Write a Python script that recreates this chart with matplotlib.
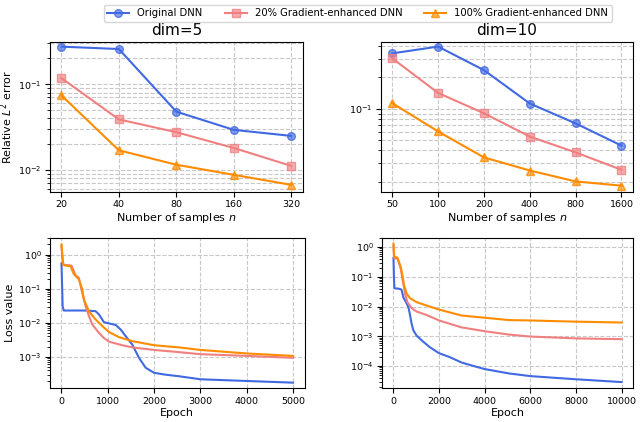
import matplotlib
matplotlib.use("Agg")
import matplotlib.pyplot as plt
from matplotlib.ticker import FixedLocator, NullLocator, ScalarFormatter

# ---------------- data ----------------
labels = ["Original DNN", "20% Gradient-enhanced DNN", "100% Gradient-enhanced DNN"]

n5 = [20, 40, 80, 160, 320]
err5_orig = [0.275, 0.258, 0.0478, 0.0293, 0.0249]
err5_g20 = [0.118, 0.0388, 0.0275, 0.018, 0.0111]
err5_g100 = [0.0742, 0.0169, 0.01146, 0.00873, 0.00667]

n10 = [50, 100, 200, 400, 800, 1600]
err10_orig = [0.340, 0.395, 0.235, 0.1126, 0.0726, 0.0445]
err10_g20 = [0.305, 0.142, 0.0908, 0.0543, 0.0383, 0.0261]
err10_g100 = [0.1135, 0.0608, 0.0343, 0.0257, 0.0202, 0.0184]

# loss histories, dim=5
ep5_orig = [0, 25, 50, 200, 500, 735, 807, 915, 1024, 1168, 1276, 1384, 1528, 1673, 1817, 2000, 2250, 2538, 3000, 4000, 5000]
loss5_orig = [0.55, 0.03, 0.023, 0.023, 0.023, 0.022, 0.0178, 0.0105, 0.0096, 0.0087, 0.0064, 0.0041, 0.0023, 0.00094, 0.00048, 0.00034, 0.00030, 0.00027, 0.00022, 0.000196, 0.000175]
ep5_g20 = [0, 20, 40, 100, 216, 303, 375, 447, 519, 591, 663, 807, 915, 1024, 1312, 1528, 2000, 2538, 3000, 4000, 5000]
loss5_g20 = [1.8, 0.8, 0.5, 0.5, 0.48, 0.25, 0.21, 0.077, 0.031, 0.016, 0.009, 0.0051, 0.0036, 0.0028, 0.0022, 0.0019, 0.0016, 0.00138, 0.0012, 0.00107, 0.00094]
ep5_g100 = [0, 20, 40, 100, 195, 267, 375, 447, 483, 591, 735, 880, 1024, 1240, 1528, 2000, 2538, 3000, 4000, 5000]
loss5_g100 = [2.0, 0.9, 0.5, 0.48, 0.46, 0.27, 0.19, 0.097, 0.049, 0.022, 0.0126, 0.0081, 0.0054, 0.0038, 0.0029, 0.0022, 0.0019, 0.0016, 0.00126, 0.00107]

# loss histories, dim=10
ep10_orig = [0, 20, 40, 200, 319, 362, 435, 550, 652, 700, 797, 870, 1014, 1304, 1594, 2000, 2464, 2971, 3478, 4000, 5072, 6000, 8000, 10000]
loss10_orig = [0.43, 0.1, 0.041, 0.040, 0.038, 0.035, 0.020, 0.014, 0.0095, 0.0065, 0.0026, 0.0016, 0.00105, 0.00066, 0.00043, 0.00027, 0.00020, 0.000133, 0.000102, 0.0000793, 0.0000564, 4.6e-5, 3.6e-5, 2.9e-5]
ep10_g20 = [0, 20, 40, 174, 217, 319, 406, 507, 609, 797, 1014, 1449, 2000, 2971, 4000, 5072, 6000, 8000, 10000]
loss10_g20 = [1.1, 0.5, 0.42, 0.40, 0.33, 0.19, 0.075, 0.027, 0.014, 0.0088, 0.0068, 0.0052, 0.0034, 0.0020, 0.00148, 0.00114, 0.00098, 0.00085, 0.00080]
ep10_g100 = [0, 20, 40, 174, 217, 319, 406, 464, 580, 725, 1014, 1449, 2000, 2971, 4000, 5072, 6000, 8000, 10000]
loss10_g100 = [1.3, 0.6, 0.46, 0.44, 0.35, 0.21, 0.097, 0.051, 0.027, 0.019, 0.014, 0.0108, 0.0079, 0.0050, 0.0042, 0.0035, 0.0034, 0.0031, 0.0029]

# ---------------- style ----------------
c_orig = "#4169E1"
c_g20 = "#F08080"
c_g100 = "#FF8C00"
TICK = 6.8
LAB = 8.0

fig = plt.figure(figsize=(6.4, 4.22), dpi=100)
ax1 = fig.add_axes([0.078, 0.545, 0.395, 0.355])
ax2 = fig.add_axes([0.595, 0.545, 0.394, 0.355])
ax3 = fig.add_axes([0.078, 0.080, 0.398, 0.356])
ax4 = fig.add_axes([0.597, 0.080, 0.392, 0.356])

grid_kw = dict(linestyle="--", color="#c8c8c8", linewidth=0.8)

def top_panel(ax, n, e1, e2, e3, title, ylim):
    h1, = ax.plot(n, e1, "-o", color=c_orig, lw=1.5, ms=5.5)
    h2, = ax.plot(n, e2, "-s", color=c_g20, lw=1.5, ms=5.5)
    h3, = ax.plot(n, e3, "-^", color=c_g100, lw=1.5, ms=5.5)
    for h in (h1, h2, h3):
        h.set_markerfacecolor(matplotlib.colors.to_rgba(h.get_color(), 0.65))
        h.set_markeredgecolor(matplotlib.colors.to_rgba(h.get_color(), 0.8))
    ax.set_xscale("log", base=2)
    ax.set_yscale("log")
    ax.xaxis.set_major_locator(FixedLocator(n))
    ax.xaxis.set_major_formatter(ScalarFormatter())
    ax.xaxis.set_minor_locator(NullLocator())
    ax.set_ylim(*ylim)
    ax.grid(True, which="both", **grid_kw)
    ax.set_title(title, fontsize=11, pad=5)
    ax.set_xlabel("Number of samples $n$", fontsize=LAB, labelpad=1.5)
    ax.tick_params(labelsize=TICK, pad=2.5)
    return h1, h2, h3

def bottom_panel(ax, data, xt, ylim, xlim):
    for ep, l, c in data:
        ax.plot(ep, l, "-", color=c, lw=1.5)
    ax.set_yscale("log")
    ax.set_xticks(xt)
    ax.set_xlim(*xlim)
    ax.set_ylim(*ylim)
    ax.grid(True, which="major", **grid_kw)
    ax.set_xlabel("Epoch", fontsize=LAB, labelpad=1.5)
    ax.tick_params(labelsize=TICK, pad=2.5)

handles = top_panel(ax1, n5, err5_orig, err5_g20, err5_g100, "dim=5", (0.0055, 0.31))
top_panel(ax2, n10, err10_orig, err10_g20, err10_g100, "dim=10", (0.016, 0.435))
ax1.set_ylabel("Relative $L^2$ error", fontsize=LAB, labelpad=2)

bottom_panel(ax3, [(ep5_orig, loss5_orig, c_orig), (ep5_g20, loss5_g20, c_g20), (ep5_g100, loss5_g100, c_g100)],
             [0, 1000, 2000, 3000, 4000, 5000], (1.2e-4, 3.1), (-250, 5250))
bottom_panel(ax4, [(ep10_orig, loss10_orig, c_orig), (ep10_g20, loss10_g20, c_g20), (ep10_g100, loss10_g100, c_g100)],
             [0, 2000, 4000, 6000, 8000, 10000], (1.8e-5, 2.0), (-500, 10500))
ax3.set_ylabel("Loss value", fontsize=LAB, labelpad=2)

fig.legend(handles, labels, loc="upper center", bbox_to_anchor=(0.559, 1.0), ncol=3,
           fontsize=7.2, frameon=True, handlelength=2.2, columnspacing=2.2,
           borderpad=0.35, fancybox=True)

fig.savefig("out.png", dpi=100)
